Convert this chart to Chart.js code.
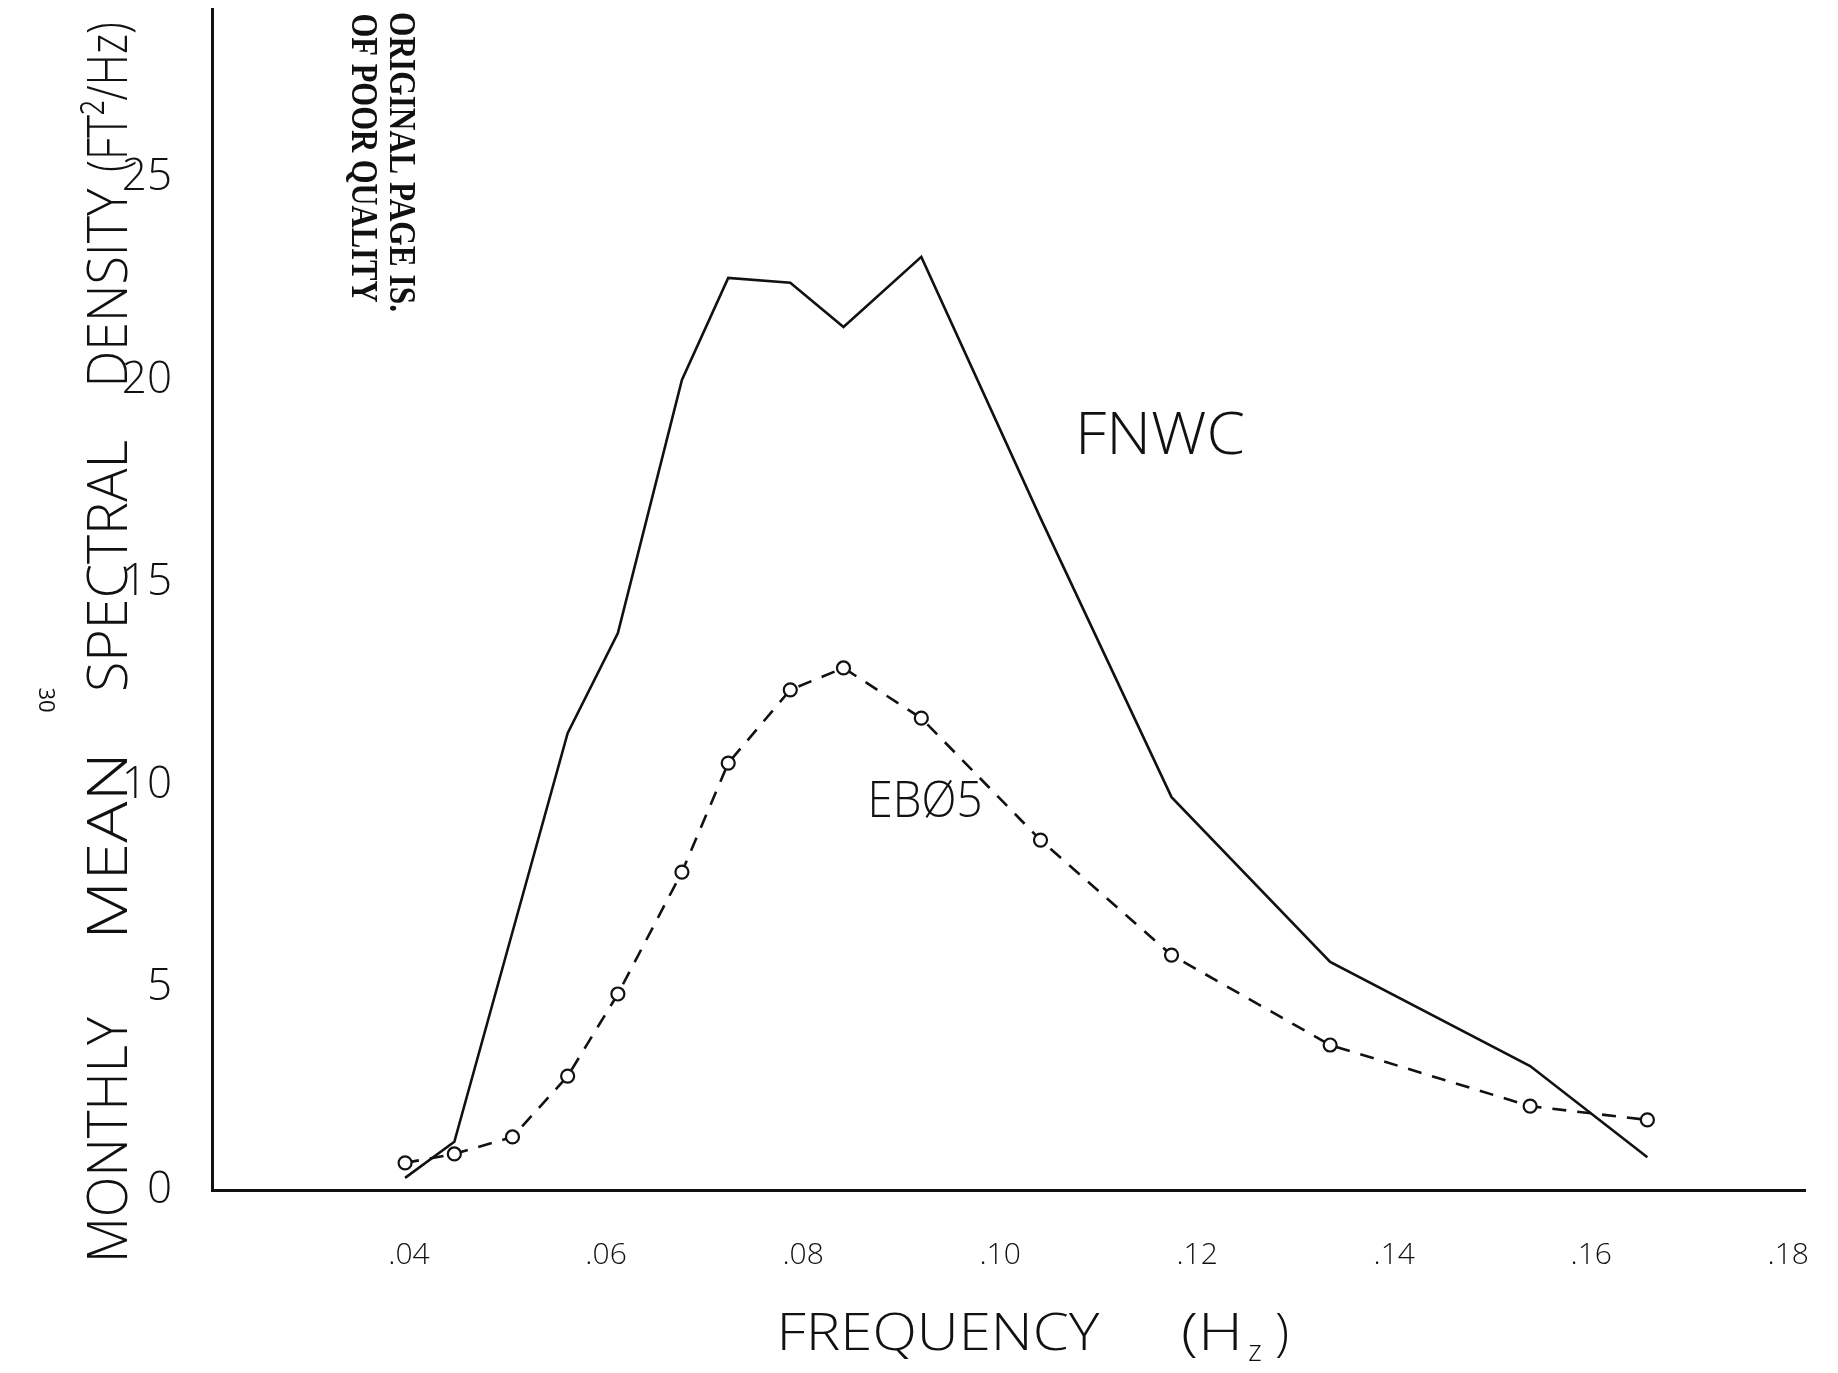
<!DOCTYPE html>
<html>
<head>
<meta charset="utf-8">
<script src="https://cdn.jsdelivr.net/npm/chart.js@4.4.1/dist/chart.umd.min.js"></script>
<style>
html,body{margin:0;padding:0;background:#fff;}
#wrap{width:1838px;height:1373px;position:relative;}
</style>
</head>
<body>
<div id="wrap"><canvas id="c"></canvas></div>
<script>
// ---- data ----
const freq = [0.0396, 0.0446, 0.0505, 0.0561, 0.0612, 0.0677, 0.0724, 0.0787, 0.0841, 0.0920, 0.1041, 0.1174, 0.1335, 0.1538, 0.1657];
const fnwc = [0.30, 1.19, 6.37, 11.28, 13.75, 20.0, 22.52, 22.40, 21.31, 23.04, 16.59, 9.70, 5.63, 3.06, 0.81];
const eb05 = [0.67, 0.89, 1.31, 2.81, 4.84, 7.85, 10.54, 12.35, 12.89, 11.65, 8.64, 5.80, 3.58, 2.07, 1.73];
const seriesNames = ['FNWC', 'EBØ5'];
const xTickValues = [0.04, 0.06, 0.08, 0.10, 0.12, 0.14, 0.16, 0.18];
const xTickLabels = ['.04', '.06', '.08', '.10', '.12', '.14', '.16', '.18'];
const yTickValues = [0, 5, 10, 15, 20, 25];
const yTickLabels = ['0', '5', '10', '15', '20', '25'];
const yTitleWords = ['MONTHLY', 'MEAN', 'SPECTRAL', 'DENSITY', '(FT²/Hz)'];
const xTitleWords = ['FREQUENCY', '(Hz)'];
const stampLines = ['ORIGINAL PAGE IS.', 'OF POOR QUALITY'];

const FONT = "'Open Sans', 'DejaVu Sans', sans-serif";

function drawText(ctx, text, cx, cy, o) {
  ctx.save();
  ctx.font = o.font;
  ctx.fillStyle = o.color || '#111';
  ctx.textAlign = 'center';
  ctx.textBaseline = 'middle';
  ctx.translate(cx, cy);
  ctx.rotate(o.angle || 0);
  if (o.width) {
    const m = ctx.measureText(text).width;
    ctx.scale(o.width / m, 1);
  }
  ctx.fillText(text, 0, 0);
  ctx.restore();
}

const annotations = {
  id: 'annotations',
  afterDraw(chart) {
    const ctx = chart.ctx;
    // y axis title, hand-lettered words spread along the axis
    const yW = [
      {t: yTitleWords[0], c: 1140, w: 246},
      {t: yTitleWords[1], c: 846, w: 188},
      {t: yTitleWords[2], c: 566, w: 252},
      {t: yTitleWords[3], c: 288, w: 199},
      {t: yTitleWords[4], c: 97, w: 150}
    ];
    yW.forEach(w => drawText(ctx, w.t, 111, w.c, {font: '300 56px ' + FONT, width: w.w, angle: -Math.PI / 2}));
    // x axis title
    drawText(ctx, xTitleWords[0], 938, 1335, {font: '300 52px ' + FONT, width: 323});
    drawText(ctx, '(H', 1212, 1335, {font: '300 52px ' + FONT, width: 62});
    drawText(ctx, 'z', 1255, 1352, {font: '300 30px ' + FONT});
    drawText(ctx, ')', 1282, 1335, {font: '300 52px ' + FONT});
    // series labels
    drawText(ctx, seriesNames[0], 1160, 437, {font: '300 58px ' + FONT, width: 170});
    drawText(ctx, seriesNames[1], 925, 803, {font: '300 50px ' + FONT, width: 115});
    // stamp
    drawText(ctx, stampLines[0], 400, 162, {font: 'bold 38px "Liberation Serif", serif', width: 300, angle: Math.PI / 2});
    drawText(ctx, stampLines[1], 362, 158, {font: 'bold 38px "Liberation Serif", serif', width: 289, angle: Math.PI / 2});
    // stray page number
    drawText(ctx, '30', 45, 700, {font: '22px ' + FONT, angle: Math.PI / 2});
  }
};

const ctxEl = document.getElementById('c');
new Chart(ctxEl, {
  type: 'line',
  data: {
    datasets: [
      {
        label: seriesNames[0],
        data: freq.map((f, i) => ({x: f, y: fnwc[i]})),
        borderColor: '#111',
        borderWidth: 2.6,
        pointRadius: 0,
        tension: 0,
        fill: false
      },
      {
        label: seriesNames[1],
        data: freq.map((f, i) => ({x: f, y: eb05[i]})),
        borderColor: '#111',
        borderWidth: 2.6,
        borderDash: [14, 11],
        pointRadius: 6.5,
        pointBorderWidth: 2.2,
        pointBackgroundColor: '#fff',
        pointBorderColor: '#111',
        tension: 0,
        fill: false
      }
    ]
  },
  options: {
    responsive: true,
    maintainAspectRatio: false,
    animation: false,
    events: [],
    layout: {padding: {top: 9, right: 33, left: 0, bottom: 0}},
    plugins: {legend: {display: false}, tooltip: {enabled: false}},
    scales: {
      x: {
        type: 'linear',
        min: 0.02,
        max: 0.1817,
        grid: {display: false, drawTicks: false},
        border: {display: true, color: '#111', width: 3},
        afterBuildTicks: s => { s.ticks = xTickValues.map(v => ({value: v})); },
        afterFit: s => { s.height = 183; s.paddingLeft = 0; s.paddingRight = 0; },
        ticks: {
          padding: 47,
          color: '#111',
          font: {family: FONT, size: 30, weight: '300'},
          callback: (v) => { const i = xTickValues.findIndex(t => Math.abs(t - v) < 1e-9); return i >= 0 ? xTickLabels[i] : ''; }
        }
      },
      y: {
        type: 'linear',
        min: 0,
        max: 29.16,
        grid: {display: false, drawTicks: false},
        border: {display: true, color: '#111', width: 3},
        afterBuildTicks: s => { s.ticks = yTickValues.map(v => ({value: v})); },
        afterFit: s => { s.width = 212; s.paddingTop = 0; s.paddingBottom = 0; },
        ticks: {
          padding: 40,
          color: '#111',
          font: {family: FONT, size: 44, weight: '300'},
          callback: (v) => { const i = yTickValues.indexOf(v); return i >= 0 ? yTickLabels[i] : ''; }
        }
      }
    }
  },
  plugins: [annotations]
});
</script>
</body>
</html>
